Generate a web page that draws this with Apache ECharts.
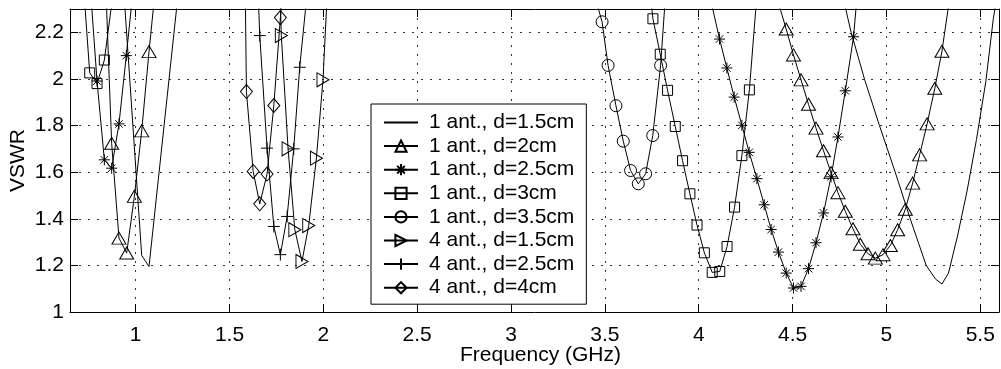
<!DOCTYPE html>
<html><head><meta charset="utf-8">
<script src="https://cdn.jsdelivr.net/npm/echarts@6/dist/echarts.min.js"></script>
<style>html,body{margin:0;padding:0;background:#fff}#c{width:1001px;height:369px}</style>
</head><body><div id="c"></div>
<script>
// ---- tick labels ----
const xTicks = [1, 1.5, 2, 2.5, 3, 3.5, 4, 4.5, 5, 5.5];
const yTicks = [1, 1.2, 1.4, 1.6, 1.8, 2, 2.2];

// ---- series names ----
const seriesNames = ['1 ant., d=1.5cm', '1 ant., d=2cm', '1 ant., d=2.5cm', '1 ant., d=3cm',
  '1 ant., d=3.5cm', '4 ant., d=1.5cm', '4 ant., d=2.5cm', '4 ant., d=4cm'];

// ---- data (frequency GHz / VSWR); null = gap between bands ----
const f_1ant_d15 = [0.90, 1.032, 1.071, 1.25, null, 4.74, 4.812, 4.883, 4.963, 5.047, 5.127, 5.212, 5.262, 5.296, 5.331, 5.38, 5.43, 5.48, 5.53, 5.57, 5.62];
const v_1ant_d15 = [2.81, 1.243, 1.195, 2.544, null, 2.45, 2.2, 2.0, 1.8, 1.6, 1.4, 1.2, 1.141, 1.12, 1.167, 1.33, 1.52, 1.74, 1.99, 2.26, 2.5];

const f_1ant_d2 = [0.832, 0.872, 0.911, 0.952, 0.993, 1.032, 1.071, 1.110, null,
  4.427, 4.466, 4.505, 4.545, 4.585, 4.625, 4.665, 4.705, 4.742, 4.781, 4.822, 4.861, 4.902, 4.941, 4.982, 5.021, 5.060, 5.101, 5.140, 5.177, 5.217, 5.258, 5.296, 5.336];
const v_1ant_d2 = [2.58, 1.724, 1.317, 1.253, 1.496, 1.777, 2.117, 2.43, null,
  2.32, 2.214, 2.103, 1.996, 1.891, 1.789, 1.692, 1.598, 1.512, 1.432, 1.357, 1.291, 1.250, 1.231, 1.246, 1.285, 1.353, 1.441, 1.553, 1.674, 1.807, 1.960, 2.119, 2.34];

const f_1ant_d25 = [0.755, 0.794, 0.833, 0.872, 0.911, 0.950, 0.990, null,
  4.072, 4.111, 4.150, 4.189, 4.230, 4.269, 4.310, 4.349, 4.386, 4.425, 4.466, 4.505, 4.545, 4.585, 4.625, 4.665, 4.705, 4.742, 4.781, 4.825, 4.865];
const v_1ant_d25 = [2.43, 1.991, 1.653, 1.617, 1.807, 2.100, 2.41, null,
  2.31, 2.171, 2.047, 1.922, 1.801, 1.685, 1.572, 1.460, 1.354, 1.257, 1.167, 1.103, 1.110, 1.186, 1.297, 1.425, 1.580, 1.751, 1.949, 2.181, 2.55];

const f_1ant_d3 = [0.716, 0.755, 0.794, 0.833, 0.872, null,
  3.717, 3.756, 3.795, 3.834, 3.875, 3.914, 3.953, 3.991, 4.030, 4.072, 4.112, 4.151, 4.191, 4.230, 4.270, 4.31];
const v_1ant_d3 = [2.467, 2.026, 1.980, 2.081, 2.32, null,
  2.56, 2.258, 2.106, 1.951, 1.796, 1.649, 1.507, 1.373, 1.254, 1.170, 1.174, 1.281, 1.450, 1.671, 1.953, 2.36];

const f_1ant_d35 = [3.443, 3.485, 3.517, 3.559, 3.598, 3.637, 3.678, 3.717, 3.755, 3.797, 3.836];
const v_1ant_d35 = [2.364, 2.245, 2.058, 1.885, 1.733, 1.607, 1.550, 1.593, 1.757, 2.058, 2.51];

const f_4ant_d15 = [1.739, 1.776, 1.812, 1.848, 1.886, 1.922, 1.963, 1.998, 2.035];
const v_4ant_d15 = [3.2, 2.186, 1.700, 1.353, 1.217, 1.371, 1.660, 1.996, 2.6];

const f_4ant_d25 = [1.625, 1.661, 1.700, 1.736, 1.771, 1.807, 1.842, 1.874, 1.91];
const v_4ant_d25 = [2.95, 2.186, 1.703, 1.367, 1.246, 1.410, 1.700, 2.050, 2.34];

const f_4ant_d4 = [1.554, 1.590, 1.626, 1.661, 1.700, 1.736, 1.771, 1.81];
const v_4ant_d4 = [4.5, 1.946, 1.603, 1.464, 1.592, 1.886, 2.263, 2.67];

// ---- build ----
const FONT = "'Liberation Sans', Arial, Helvetica, sans-serif";
const FS = 21;
const pairs = (xs, ys) => xs.map((x, i) => (x === null || ys[i] === null) ? ['-', '-'] : [x, ys[i]]);

const starPath = 'path://M5,0L5,10M0,5L10,5M1.6,1.6L8.4,8.4M8.4,1.6L1.6,8.4';
const plusPath = 'path://M5,0L5,10M0,5L10,5';

const hollow = { color: 'rgba(0,0,0,0)', borderColor: '#000', borderWidth: 1 };
const styles = [
  { symbol: 'none', itemStyle: { color: 'rgba(0,0,0,0)', borderColor: 'rgba(0,0,0,0)', borderWidth: 0, opacity: 0 } },
  { symbol: 'triangle', symbolSize: [14, 12] },
  { symbol: starPath, symbolSize: 11 },
  { symbol: 'rect', symbolSize: 10 },
  { symbol: 'circle', symbolSize: 12 },
  { symbol: 'triangle', symbolSize: [14, 12], symbolRotate: -90 },
  { symbol: plusPath, symbolSize: 12 },
  { symbol: 'diamond', symbolSize: [12, 14] }
];
const datasets = [
  pairs(f_1ant_d15, v_1ant_d15), pairs(f_1ant_d2, v_1ant_d2), pairs(f_1ant_d25, v_1ant_d25),
  pairs(f_1ant_d3, v_1ant_d3), pairs(f_1ant_d35, v_1ant_d35), pairs(f_4ant_d15, v_4ant_d15),
  pairs(f_4ant_d25, v_4ant_d25), pairs(f_4ant_d4, v_4ant_d4)
];

const series = seriesNames.map((name, i) => Object.assign({
  name, type: 'line', data: datasets[i], xAxisIndex: 0, yAxisIndex: 0,
  showAllSymbol: true, connectNulls: false, clip: true, silent: true,
  lineStyle: { color: '#000', width: 1 },
  itemStyle: hollow,
  emphasis: { disabled: true }
}, styles[i]));

const axisLineStyle = { color: '#000', width: 1 };
const chart = echarts.init(document.getElementById('c'), null, { renderer: 'canvas' });
chart.setOption({
  animation: false,
  backgroundColor: '#fff',
  textStyle: { fontFamily: FONT, color: '#000' },
  grid: { left: 70, right: 2, top: 9, bottom: 57, containLabel: false, outerBoundsMode: 'none' },
  xAxis: [
    {
      type: 'value', min: 0.65, max: 5.6, interval: 0.5, position: 'bottom',
      axisLine: { show: true, onZero: false, lineStyle: axisLineStyle },
      axisTick: { show: true, inside: true, length: 8, lineStyle: axisLineStyle, customValues: xTicks },
      axisLabel: { color: '#000', fontSize: FS, fontFamily: FONT, margin: 13, customValues: xTicks,
        formatter: v => String(v) },
      splitLine: { show: true, lineStyle: { color: '#333', width: 1, type: [2, 7] } },
      name: 'Frequency (GHz)', nameLocation: 'middle', nameGap: 33, nameMoveOverlap: false,
      nameTextStyle: { color: '#000', fontSize: FS, fontFamily: FONT, padding: [0, 0, 0, 12] }
    },
    {
      type: 'value', min: 0.65, max: 5.6, interval: 0.5, position: 'top',
      axisLine: { show: true, onZero: false, lineStyle: axisLineStyle },
      axisTick: { show: true, inside: true, length: 8, lineStyle: axisLineStyle, customValues: xTicks },
      axisLabel: { show: false }, splitLine: { show: false }
    }
  ],
  yAxis: [
    {
      type: 'value', min: 1, max: 2.3, interval: 0.2, position: 'left',
      axisLine: { show: true, onZero: false, lineStyle: axisLineStyle },
      axisTick: { show: true, inside: true, length: 8, lineStyle: axisLineStyle, customValues: yTicks },
      axisLabel: { color: '#000', fontSize: FS, fontFamily: FONT, margin: 6, customValues: yTicks,
        formatter: v => String(Math.round(v * 10) / 10) },
      splitLine: { show: true, lineStyle: { color: '#333', width: 1, type: [2, 7] } },
      name: 'VSWR', nameLocation: 'middle', nameGap: 41, nameRotate: 90, nameMoveOverlap: false,
      nameTextStyle: { color: '#000', fontSize: FS, fontFamily: FONT }
    },
    {
      type: 'value', min: 1, max: 2.3, interval: 0.2, position: 'right',
      axisLine: { show: true, onZero: false, lineStyle: axisLineStyle },
      axisTick: { show: true, inside: true, length: 8, lineStyle: axisLineStyle, customValues: yTicks },
      axisLabel: { show: false }, splitLine: { show: false }
    }
  ],
  legend: {
    data: seriesNames, orient: 'vertical', left: 371, top: 104,
    backgroundColor: '#fff', borderColor: '#000', borderWidth: 1, borderRadius: 0,
    padding: [8, 12, 6, 12], itemGap: 2.6, itemWidth: 34, itemHeight: 14,
    textStyle: { color: '#000', fontSize: FS, fontFamily: FONT, lineHeight: 20, padding: [0, 0, 0, 6] },
    selectedMode: false
  },
  series
});
</script></body></html>
